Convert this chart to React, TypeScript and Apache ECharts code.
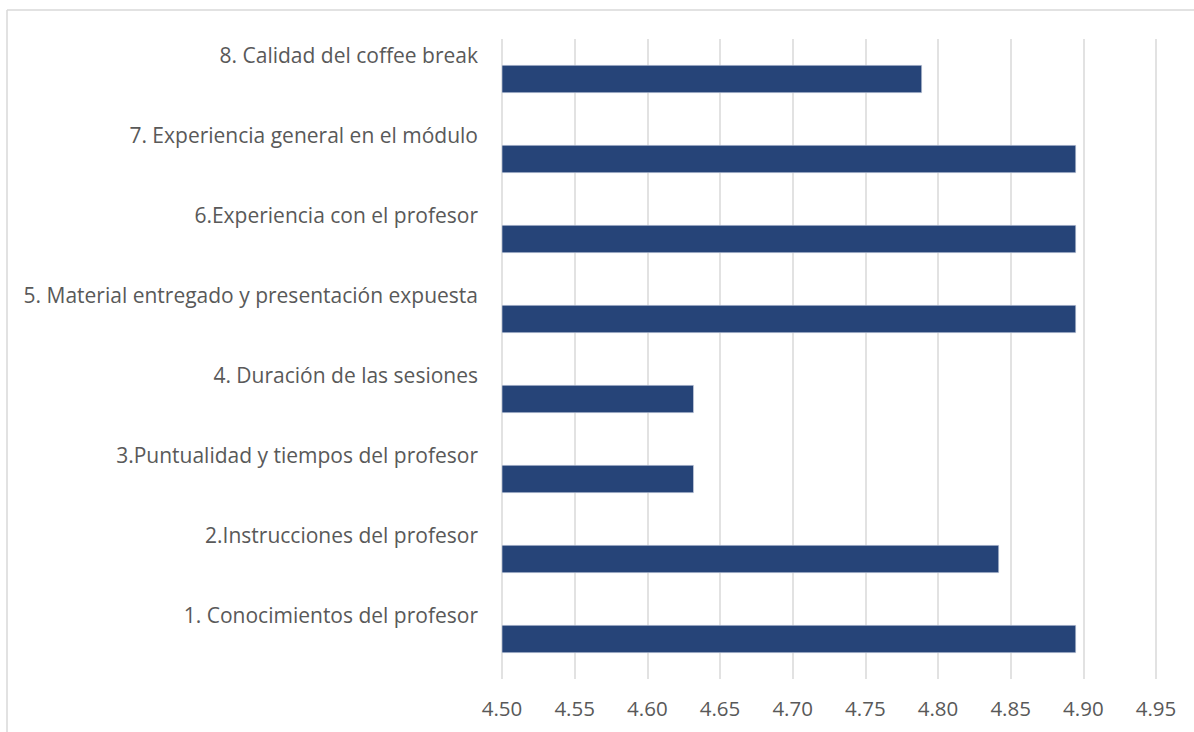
import React, { useEffect, useRef } from "react";
import * as echarts from "echarts";

const categories = [
  "1. Conocimientos del profesor",
  "2.Instrucciones del profesor",
  "3.Puntualidad y tiempos del profesor",
  "4. Duración de las sesiones",
  "5. Material entregado y presentación expuesta",
  "6.Experiencia con el profesor",
  "7. Experiencia general en el módulo",
  "8. Calidad del coffee break",
];
const values = [4.895, 4.842, 4.632, 4.632, 4.895, 4.895, 4.895, 4.789];
const xMin = 4.5;
const xMax = 4.95;
const xStep = 0.05;

export default function App() {
  const ref = useRef<HTMLDivElement>(null);
  useEffect(() => {
    if (!ref.current) return;
    const chart = echarts.init(ref.current, undefined, { renderer: "svg" });
    chart.setOption({
      animation: false,
      backgroundColor: "#ffffff",
      textStyle: { fontFamily: "Open Sans" },
      graphic: [
        { type: "line", shape: { x1: 7, y1: 10, x2: 7, y2: 732 }, style: { stroke: "#d9d9d9", lineWidth: 1.5 } },
        { type: "line", shape: { x1: 7, y1: 10, x2: 1194, y2: 10 }, style: { stroke: "#d9d9d9", lineWidth: 1.5 } },
      ],
      grid: { left: 502, right: 38, top: 39, bottom: 53, containLabel: false },
      xAxis: {
        type: "value",
        min: xMin,
        max: xMax,
        interval: xStep,
        axisLine: { show: false },
        axisTick: { show: false },
        splitLine: { show: true, lineStyle: { color: "#d9d9d9", width: 1.5 } },
        axisLabel: {
          color: "#595959",
          fontSize: 20.5,
          fontFamily: "Open Sans",
          margin: 18,
          formatter: (v: number) => v.toFixed(2),
        },
      },
      yAxis: {
        type: "category",
        data: categories,
        axisLine: { show: false },
        axisTick: { show: false },
        splitLine: { show: false },
        axisLabel: {
          color: "#595959",
          fontSize: 21,
          fontFamily: "Open Sans",
          margin: 24,
          verticalAlign: "bottom",
          lineHeight: 48,
        },
      },
      series: [
        {
          type: "bar",
          data: values,
          barWidth: 28,
          itemStyle: { color: "#264478", borderColor: "#d6dce8", borderWidth: 0.6 },
        },
      ],
    });
    return () => chart.dispose();
  }, []);
  return (
    <div
      ref={ref}
      style={{ position: "fixed", left: 0, top: 0, width: 1194, height: 732 }}
    />
  );
}
